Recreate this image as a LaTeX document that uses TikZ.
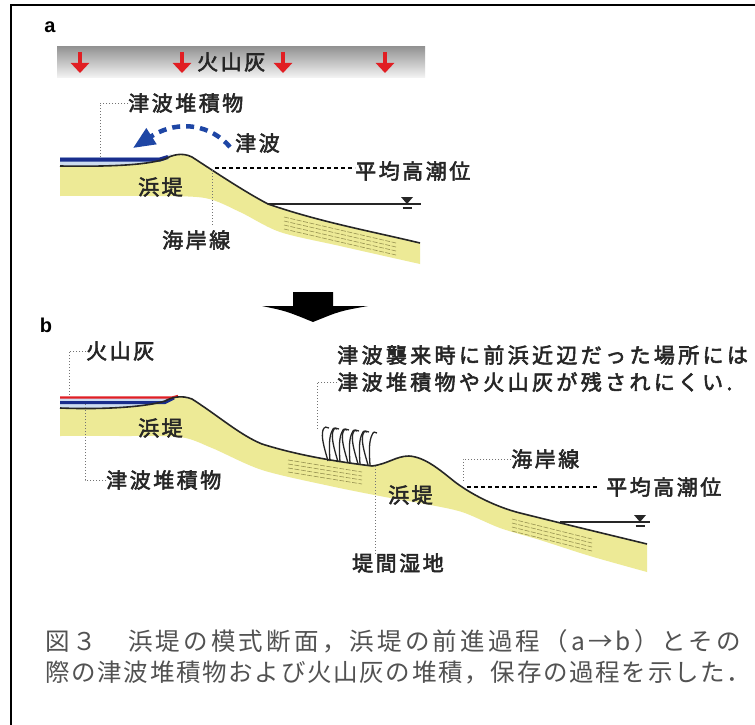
\documentclass[tikz,border=0pt]{standalone}
\usepackage{fontspec}
\usetikzlibrary{arrows.meta}
\newfontfamily\lab{Noto Sans CJK JP}[FakeBold=2.6, LetterSpace=12]
\newfontfamily\labw{Noto Sans CJK JP}[FakeBold=2.6, LetterSpace=16]
\newfontfamily\capf{Noto Sans CJK JP}[LetterSpace=7]
\newfontfamily\capw{Noto Sans CJK JP}[LetterSpace=13]
\newfontfamily\letf{Liberation Sans}
\definecolor{sandc}{RGB}{237,234,150}
\definecolor{strc}{RGB}{150,145,80}
\definecolor{tsub}{RGB}{30,70,165}
\definecolor{ashred}{RGB}{225,30,35}
\definecolor{deepblue}{RGB}{25,45,140}
\definecolor{paleblue}{RGB}{205,220,240}
\tikzset{
  lbl/.style={font=\lab\fontsize{21}{21}\selectfont, text=black!85, inner sep=0pt, anchor=west},
  note/.style={font=\labw\fontsize{21}{21}\selectfont, text=black!85, inner sep=0pt, anchor=west},
  captext/.style={font=\capf\fontsize{24.5}{24.5}\selectfont, text=black!68, inner sep=0pt, anchor=west},
  captextw/.style={font=\capw\fontsize{24.5}{24.5}\selectfont, text=black!68, inner sep=0pt, anchor=west},
  panel/.style={font=\letf\bfseries\fontsize{20}{20}\selectfont, inner sep=0pt},
  leader/.style={black!55, line width=0.9pt, dash pattern=on 1.2pt off 1.8pt},
  tideline/.style={black, line width=1.3pt, dash pattern=on 4pt off 3pt},
  ground/.style={black!85, line width=1.6pt},
  strata/.style={strc, line width=0.6pt, dash pattern=on 5pt off 1.5pt},
  water/.style={black!85, line width=1.5pt},
  ashdrop/.style={draw=ashred, line width=4pt, -{Triangle[length=10pt,width=18pt]}},
  tuft/.style={black!85, line width=1.3pt},
}
% ground profiles
\def\profA{(60,166) .. controls (120,167) and (150,164) .. (165,159)
  .. controls (172,155) and (182,152) .. (192,157)
  .. controls (215,172) and (245,192) .. (268,204)
  .. controls (320,222) and (370,231) .. (420,243)}
\def\profB{(60,408) .. controls (110,410) and (150,406) .. (165,401)
  .. controls (172,397) and (182,395) .. (192,399)
  .. controls (220,417) and (240,435) .. (262,444)
  .. controls (300,456) and (340,462) .. (372,466)
  .. controls (388,464) and (396,456) .. (409,456)
  .. controls (425,457) and (440,470) .. (455,482)
  .. controls (475,497) and (500,508) .. (520,513)
  .. controls (560,523) and (610,535) .. (647,544)}
\begin{document}
\begin{tikzpicture}[x=1pt,y=-1pt]
\useasboundingbox (0,0) rectangle (755,725);
\fill[white] (0,0) rectangle (755,725);
% frame
\draw[line width=2.6pt] (11,725) -- (11,5) -- (755,5);

% ---------------- panel a ----------------
\node[panel] (pa) at (50,27) {a};
\shade[top color=black!42, bottom color=black!4] (57,47) rectangle (425,78);
\foreach \x in {80,182,283,385} \draw[ashdrop] (\x,52) -- (\x,73);
\node[lbl] (ashA) at (197,62) {火山灰};

% sand body and surface
\fill[sandc] \profA -- plot[smooth] coordinates {(420,264) (340,246) (280,232) (240,212) (205,198) (150,196) (60,196)} -- cycle;
\fill[paleblue] (60,157) -- (160,157) -- (172,154) -- (165,159) .. controls (150,164) and (120,167) .. (60,166) -- cycle;
\draw[deepblue, line width=4pt] (60,159.5) -- (160,159.5) -- (168,157);
\foreach \o in {7,11,15,19} \draw[strata] (284,210+\o) -- (396,236+\o);
\draw[ground] \profA;

% tsunami
\coordinate (tsuS) at (230,147);
\coordinate (tsuE) at (133,148);
\draw[tsub, line width=4.5pt, dash pattern=on 8pt off 6pt, -{Triangle[length=22pt,width=18pt]}]
  (tsuS) .. controls (212,126) and (180,118) .. (tsuE);
\node[lbl] (tsuA) at (235,143) {津波};

% labels and leaders
\node[lbl] (depA) at (128,103) {津波堆積物};
\coordinate (depAg) at (100,157);
\draw[leader] (depA.west) -| (depAg);
\node[lbl] (beachA) at (138,187) {浜堤};
\node[lbl] (coastA) at (162,240) {海岸線};
\coordinate (coastAg) at (212,170);
\draw[leader] (coastAg) -- (212,226);
\node[lbl] (mhwA) at (355,171) {平均高潮位};
\coordinate (mhwAs) at (215,168);
\draw[tideline] (mhwAs) -- (mhwA.west |- mhwAs);

% sea level
\coordinate (wlA1) at (268,204);
\coordinate (wlA2) at (421,204);
\draw[water] (wlA1) -- (wlA2);
\fill[black!85] (401,197) -- (413,197) -- (407,204) -- cycle;
\draw[black!85, line width=1.3pt] (402.5,208) -- (411.5,208);

% ---------------- arrow a -> b ----------------
\fill[black] (293,292) -- (333,292) -- (333,306) -- (368,306)
  .. controls (340,311) .. (313,322) .. controls (286,311) .. (262,306)
  -- (293,306) -- cycle;

% ---------------- panel b ----------------
\node[panel] (pb) at (46,325) {b};

\fill[sandc] \profB -- plot[smooth] coordinates {(647,572) (590,556) (540,540) (500,528) (462,512) (425,504) (385,497) (330,486) (262,470) (212,448) (180,437) (120,436) (60,436)} -- cycle;
\fill[paleblue] (60,397) -- (172,397) -- (178,395) -- (165,401) .. controls (150,406) and (110,410) .. (60,408) -- cycle;
\draw[deepblue, line width=3pt] (60,402.5) -- (165,402.5) -- (174,398);
\draw[ashred, line width=2.2pt] (60,397.5) -- (172,397.5) -- (178,396);
\foreach \o in {8,12,16,20} \draw[strata] (288,452+\o) -- (362,464+\o);
\foreach \o in {8,12,16,20} \draw[strata] (512,511+\o) -- (592,531+\o);
\draw[ground] \profB;

% vegetation on the former foreshore
\foreach \x/\y in {328/461,338/462,348/463,358/464,368/465}{
  \draw[tuft] (\x,\y) .. controls (\x-4,\y-14) and (\x-7,\y-24) .. (\x-5,\y-31) .. controls (\x-4,\y-34) and (\x-1,\y-35) .. (\x+1,\y-33);
  \draw[tuft] (\x+2,\y) .. controls (\x+1,\y-14) and (\x+1,\y-24) .. (\x+4,\y-30) .. controls (\x+5,\y-33) and (\x+7,\y-34) .. (\x+9,\y-32);
}

% labels and leaders
\node[lbl] (ashB) at (86,351) {火山灰};
\coordinate (ashBg) at (69,397);
\draw[leader] (ashB.west) -| (ashBg);
\node[lbl] (beachB1) at (138,428) {浜堤};
\node[lbl] (depB) at (106,480) {津波堆積物};
\coordinate (depBg) at (85,404);
\draw[leader] (depB.west) -| (depBg);
\node[note] (noteB1) at (337,355) {津波襲来時に前浜近辺だった場所には};
\node[note] (noteB2) at (337,382) {津波堆積物や火山灰が残されにくい.};
\coordinate (noteBg) at (317,430);
\draw[leader] (noteB2.west) -| (noteBg);
\node[lbl] (coastB) at (511,459) {海岸線};
\coordinate (coastBg) at (463,481);
\draw[leader] (coastB.west) -| (coastBg);
\node[lbl] (mhwB) at (606,487) {平均高潮位};
\coordinate (mhwBs) at (467,487);
\draw[tideline] (mhwBs) -- ([xshift=-8pt]mhwB.west |- mhwBs);
\node[lbl] (beachB2) at (388,495) {浜堤};
\node[lbl] (swale) at (352,563) {堤間湿地};
\coordinate (swaleg) at (375,466);
\draw[leader] (swaleg) -- (swale.north -| swaleg);

% sea level
\coordinate (wlB1) at (560,522);
\coordinate (wlB2) at (650,522);
\draw[water] (wlB1) -- (wlB2);
\fill[black!85] (634,515) -- (646,515) -- (640,522) -- cycle;
\draw[black!85, line width=1.3pt] (635.5,526) -- (644.5,526);

% ---------------- caption ----------------
\node[captextw] (cap1) at (45,641) {図３　浜堤の模式断面，浜堤の前進過程（a→b）とその};
\node[captext] (cap2) at (45,672) {際の津波堆積物および火山灰の堆積，保存の過程を示した．};
\end{tikzpicture}
\end{document}
